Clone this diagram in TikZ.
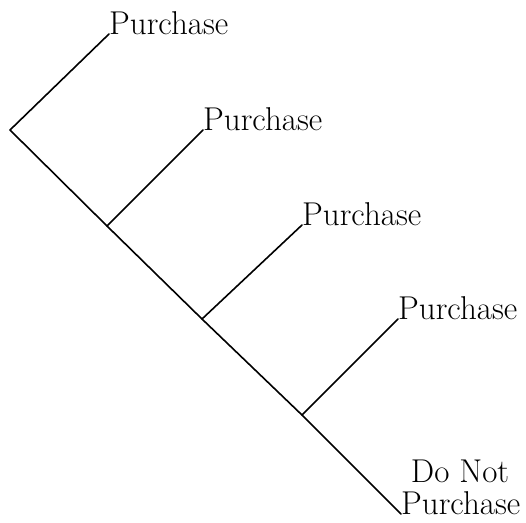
\documentclass[tikz,border=0pt]{standalone}
\begin{document}
\begin{tikzpicture}[x=1pt,y=-1pt,
  branch/.style={line width=1.6pt, line cap=round, line join=round},
  leaf/.style={inner sep=0pt, anchor=base west, font=\fontsize{33}{38}\selectfont},
  caption/.style={inner sep=0pt, anchor=base, font=\fontsize{33}{38}\selectfont}]
  \useasboundingbox (0,0) rectangle (526,522);

  % decision points along the main diagonal
  \coordinate (root) at (10,130);
  \coordinate (b1) at (107,226);
  \coordinate (b2) at (202,319);
  \coordinate (b3) at (302,415);

  % outcome labels
  \node[leaf] (p1) at (109,34) {Purchase};
  \node[leaf] (p2) at (203,130) {Purchase};
  \node[leaf] (p3) at (302,225) {Purchase};
  \node[leaf] (p4) at (398,319) {Purchase};
  \node[leaf] (p5) at (401,514) {Purchase};
  \node[caption] (dn) at (460,482) {Do Not};

  % tree
  \draw[branch] (p1.base west) -- (root) -- (b1) -- (b2) -- (b3) -- (p5.base west);
  \draw[branch] (b1) -- (p2.base west);
  \draw[branch] (b2) -- (p3.base west);
  \draw[branch] (b3) -- (p4.base west);
\end{tikzpicture}
\end{document}
